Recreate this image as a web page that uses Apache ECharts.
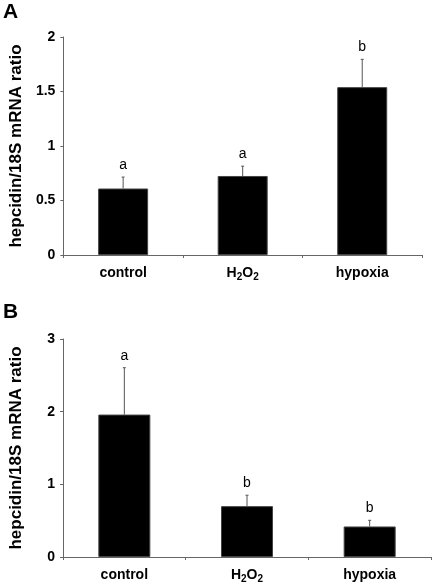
<!DOCTYPE html>
<html><head><meta charset="utf-8">
<script src="https://cdn.jsdelivr.net/npm/echarts@6/dist/echarts.min.js"></script>
<style>html,body{margin:0;padding:0;background:#fff}#c{width:432px;height:584px}</style>
</head><body><div id="c"></div>
<script>
const categories = ['control', 'H2O2', 'hypoxia'];
const meanA = [0.61, 0.725, 1.54];
const errA = [0.105, 0.09, 0.255];
const letterA = ['a', 'a', 'b'];
const meanB = [1.96, 0.70, 0.42];
const errB = [0.645, 0.15, 0.085];
const letterB = ['a', 'b', 'b'];
const yTicksA = [0, 0.5, 1, 1.5, 2];
const yTicksB = [0, 1, 2, 3];
const yTitle = 'hepcidin/18S mRNA ratio';

const FONT = '"Liberation Sans", Arial, sans-serif';
const axisGrey = '#666';

function catFmt(v) {
  if (v === 'H2O2') return '{n|H}{s|2}{n|O}{s|2}';
  return '{n|' + v + '}';
}
const richCat = {
  n: {fontFamily: FONT, fontWeight: 'bold', fontSize: 14, color: '#000', lineHeight: 18, verticalAlign: 'middle'},
  s: {fontFamily: FONT, fontWeight: 'bold', fontSize: 10, color: '#000', lineHeight: 18, verticalAlign: 'bottom', padding: [8, 0, 0, 0]}
};

function xAx(gi) {
  return {
    type: 'category', gridIndex: gi, data: categories,
    axisLine: {lineStyle: {color: axisGrey, width: 1}},
    axisTick: {show: true, length: 3, lineStyle: {color: axisGrey}},
    axisLabel: {formatter: catFmt, rich: richCat, margin: 9, interval: 0}
  };
}
function yAx(gi, max, interval) {
  return {
    type: 'value', gridIndex: gi, min: 0, max: max, interval: interval,
    name: yTitle, nameLocation: 'middle', nameGap: 38,
    nameTextStyle: {fontFamily: FONT, fontWeight: 'bold', fontSize: 17, color: '#000'},
    axisLine: {show: true, lineStyle: {color: axisGrey, width: 1}},
    axisTick: {show: true, length: 3, inside: false, lineStyle: {color: axisGrey}},
    splitLine: {show: false},
    axisLabel: {fontFamily: FONT, fontWeight: 'bold', fontSize: 14, color: '#000', margin: 8}
  };
}
function errData(mean, err, letters) {
  return mean.map((m, i) => [i, m, m + err[i], letters[i]]);
}
function renderErr(params, api) {
  const base = api.coord([api.value(0), api.value(1)]);
  const top = api.coord([api.value(0), api.value(2)]);
  const letter = params.seriesIndex === 1 ? letterA[params.dataIndex] : letterB[params.dataIndex];
  return {
    type: 'group',
    children: [
      {type: 'line', shape: {x1: top[0], y1: base[1], x2: top[0], y2: top[1]}, style: {stroke: '#555', lineWidth: 1}},
      {type: 'line', shape: {x1: top[0] - 1.5, y1: top[1], x2: top[0] + 1.5, y2: top[1]}, style: {stroke: '#555', lineWidth: 1}},
      {type: 'text', x: top[0], y: top[1] - 12, style: {text: letter, fontFamily: FONT, fontSize: 14, fill: '#000', align: 'center', verticalAlign: 'middle'}}
    ]
  };
}

const chart = echarts.init(document.getElementById('c'), null, {renderer: 'canvas'});
chart.setOption({
  backgroundColor: '#fff',
  animation: false,
  grid: [
    {left: 50, top: 37, width: 372, height: 218},
    {left: 50, top: 339, width: 381, height: 218}
  ],
  xAxis: [xAx(0), xAx(1)],
  yAxis: [yAx(0, 2, 0.5), yAx(1, 3, 1)],
  graphic: [
    {type: 'text', left: 3, top: 2, style: {text: 'A', fontFamily: FONT, fontWeight: 'bold', fontSize: 21, fill: '#000'}},
    {type: 'text', left: 3, top: 302, style: {text: 'B', fontFamily: FONT, fontWeight: 'bold', fontSize: 21, fill: '#000'}}
  ],
  series: [
    {type: 'bar', xAxisIndex: 0, yAxisIndex: 0, data: meanA, barWidth: 50, itemStyle: {color: '#000', borderColor: '#444', borderWidth: 1}, z: 2},
    {type: 'custom', xAxisIndex: 0, yAxisIndex: 0, data: errData(meanA, errA, letterA), renderItem: renderErr, z: 3},
    {type: 'bar', xAxisIndex: 1, yAxisIndex: 1, data: meanB, barWidth: 52, itemStyle: {color: '#000', borderColor: '#444', borderWidth: 1}, z: 2},
    {type: 'custom', xAxisIndex: 1, yAxisIndex: 1, data: errData(meanB, errB, letterB), renderItem: renderErr, z: 3}
  ]
});
</script></body></html>
